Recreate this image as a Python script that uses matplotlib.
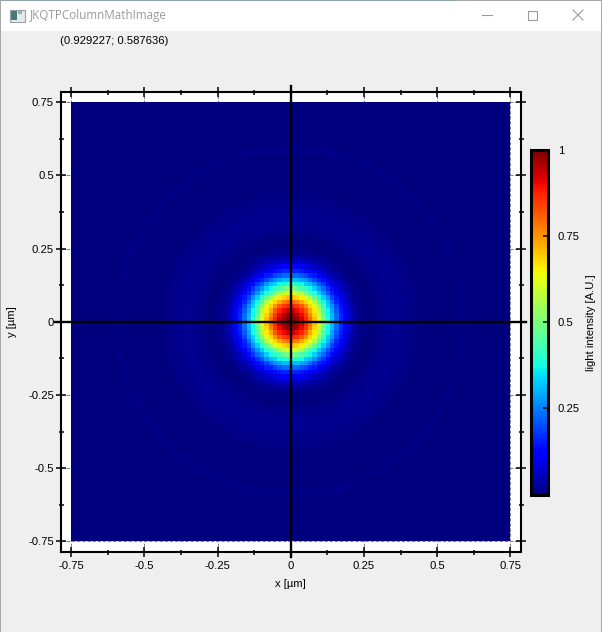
import numpy as np
import matplotlib
matplotlib.use('Agg')
import matplotlib.pyplot as plt
from matplotlib.patches import Rectangle

# radial intensity, quarter-cell steps from the centre out to r=17.75 cells
core_profile = [1.00, .999, .997, .993, .988, .981, .974, .965, .955, .943, .930, .917,
	.902, .886, .869, .851, .832, .813, .793, .772, .750, .728, .706, .683,
	.660, .636, .611, .586, .560, .530, .500, .470, .440, .417, .395, .372,
	.350, .329, .309, .289, .270, .250, .231, .213, .195, .179, .164, .149,
	.135, .122, .110, .099, .088, .078, .069, .060, .052, .045, .039, .033,
	.028, .023, .019, .015, .012, .009, .007, .005, .003, .002, .001, .000]
# faint rings further out, one cell steps from r=18 to r=47
ring_profile = [.000, .001, .004, .008, .013, .016, .0175, .0165, .014, .011, .008, .005,
	.003, .0012, .0002, .000, .0003, .001, .002, .003, .0038, .0042, .004, .0035,
	.0027, .0018, .001, .0005, .0001, .000]
num_cells = 100
tick_values = [-0.75, -0.5, -0.25, 0, 0.25, 0.5, 0.75]
tick_labels = ['-0.75', '-0.5', '-0.25', '0', '0.25', '0.5', '0.75']
minor_values = [-0.625, -0.375, -0.125, 0.125, 0.375, 0.625]
cbar_values = [0.25, 0.5, 0.75, 1]
cbar_labels = ['0.25', '0.5', '0.75', '1']

W, H = 602, 632
FONT = ['Liberation Sans', 'DejaVu Sans']
plt.rcParams['font.family'] = FONT
plt.rcParams['font.size'] = 8.1

# look every cell up in the radial tables
cell = np.arange(num_cells) - (num_cells - 1) / 2
radius = np.hypot(*np.meshgrid(cell, cell))
intensity = np.zeros_like(radius)
for i in range(num_cells):
	for j in range(num_cells):
		r = radius[i, j]
		if r < 18:
			intensity[i, j] = core_profile[min(int(round(r * 4)), len(core_profile) - 1)]
		else:
			intensity[i, j] = ring_profile[min(int(round(r)) - 18, len(ring_profile) - 1)]

fig = plt.figure(figsize=(W / 100, H / 100), dpi=100, facecolor='#efefef')

def px_axes(left, top, right, bottom):
	# axes rectangle from screen pixels
	return fig.add_axes([left / W, 1 - bottom / H, (right - left) / W, (bottom - top) / H])

# window chrome, drawn in pixel coordinates
chrome = fig.add_axes([0, 0, 1, 1], zorder=-1)
chrome.set_xlim(0, W)
chrome.set_ylim(H, 0)
chrome.axis('off')
chrome.add_patch(Rectangle((0, 0), W, 31, color='white', lw=0))
chrome.add_patch(Rectangle((0, 0), 1, H, color='#a8a8a8', lw=0))
chrome.add_patch(Rectangle((W - 1, 0), 1, H, color='#a8a8a8', lw=0))
chrome.add_patch(Rectangle((0, 0), W, 1, color='#a8a8a8', lw=0))
chrome.add_patch(Rectangle((0, 0), 456, 1, color='#8ea3b0', lw=0))
# icon
chrome.add_patch(Rectangle((9.5, 9.5), 15, 12, fc='#e4e8e8', ec='#a0a0a0', lw=0.8))
chrome.add_patch(Rectangle((11, 11), 6, 9, color='#3f7f7a', lw=0))
chrome.add_patch(Rectangle((18, 11), 4, 3, color='#8fb6b4', lw=0))
chrome.text(30, 16, 'JKQTPColumnMathImage', color='#9a9a9a', fontsize=8.4,
	family=['Open Sans', 'DejaVu Sans'], va='center', ha='left')
chrome.plot([482, 492], [15, 15], color='#9a9a9a', lw=0.8)
chrome.add_patch(Rectangle((527.5, 10.5), 9, 9, fc='none', ec='#9a9a9a', lw=0.8))
chrome.plot([573, 583], [10, 20], color='#9a9a9a', lw=0.8)
chrome.plot([573, 583], [20, 10], color='#9a9a9a', lw=0.8)
chrome.text(60, 41, '(0.929227; 0.587636)', color='black', va='center', ha='left')

# main plot
ax = px_axes(60.5, 91.5, 521, 552)
im = ax.imshow(intensity, cmap='jet', vmin=0, vmax=1, origin='lower', aspect='auto',
	extent=[-0.7495, 0.7485, -0.7485, 0.7495], interpolation='nearest', zorder=1)
ax.set_xlim(-0.786, 0.786)
ax.set_ylim(-0.786, 0.786)
ax.set_xticks(tick_values)
ax.set_xticklabels(tick_labels)
ax.set_yticks(tick_values)
ax.set_yticklabels(tick_labels)
ax.set_xticks(minor_values, minor=True)
ax.set_yticks(minor_values, minor=True)
ax.tick_params(which='major', direction='inout', length=7.5, width=1.1, top=True, right=True)
ax.tick_params(which='minor', direction='inout', length=3.6, width=1.1, top=True, right=True)
ax.tick_params(axis='x', which='major', pad=3)
ax.tick_params(axis='y', which='major', pad=1)
ax.set_axisbelow(True)
ax.grid(which='major', color='#808080', ls='--', lw=0.7)
for spine in ax.spines.values():
	spine.set_linewidth(1.5)
# the two zero axes stick out of the frame like ticks
ax.axvline(0, ymin=-0.011, ymax=1.011, color='black', lw=1.7, clip_on=False, zorder=3)
ax.axhline(0, xmin=-0.011, xmax=1.011, color='black', lw=1.7, clip_on=False, zorder=3)
ax.set_xlabel('x [µm]', va='center')
ax.xaxis.set_label_coords(0.5, -0.0695)
ax.set_ylabel('y [µm]', va='center')
ax.yaxis.set_label_coords(-0.105, 0.5)

# colour bar
cax = px_axes(531, 150, 548, 494.5)
cbar = fig.colorbar(im, cax=cax)
cbar.set_ticks(cbar_values)
cbar.set_ticklabels(cbar_labels)
cbar.minorticks_off()
cax.tick_params(direction='in', length=3.6, width=1.1, pad=7)
cbar.outline.set_linewidth(2.2)
cbar.set_label('light intensity [A.U.]', va='center')
cax.yaxis.set_label_coords(3.5, 0.5)

fig.savefig('out.png', dpi=100)
